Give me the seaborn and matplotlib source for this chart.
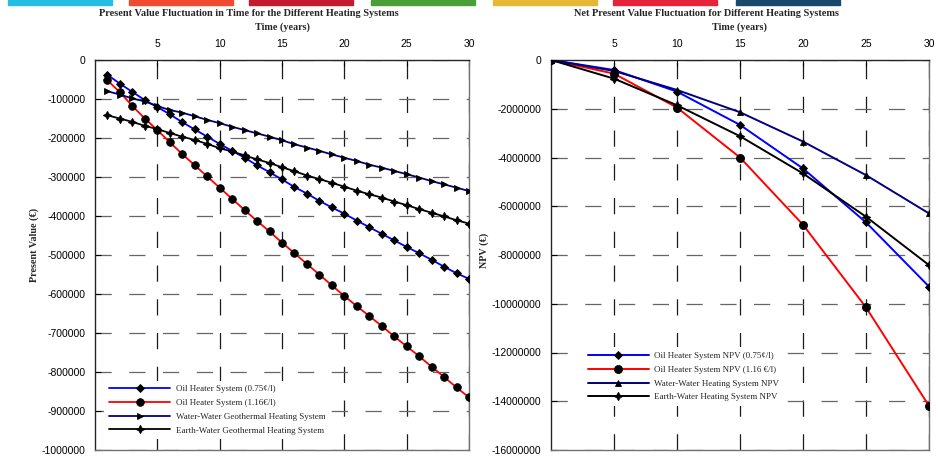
import matplotlib
matplotlib.use("Agg")
import matplotlib.pyplot as plt
import matplotlib.ticker as mticker
from matplotlib.patches import Rectangle
import seaborn as sns
import pandas as pd

# ---------------- data ----------------
years = list(range(1, 31))
pv_oil_075 = [-38000, -60800, -81900, -103000, -120700, -139200, -159500, -178100, -196600, -215200,
              -232900, -250600, -270000, -287800, -306300, -325700, -342600, -361200, -378100, -394100,
              -411800, -428700, -445600, -462500, -479300, -495400, -512200, -530000, -546800, -561200]
pv_oil_116 = [-52300, -82700, -118100, -150200, -179700, -211000, -241400, -270000, -298700, -327400,
              -356100, -384800, -412700, -439700, -468400, -495400, -523200, -550200, -578100, -605100,
              -631200, -656500, -681900, -708900, -734200, -759500, -786500, -812700, -839700, -865000]
pv_water = [-80200, -88600, -98700, -106300, -118100, -128300, -135000, -144300, -153600, -162000,
            -171300, -179700, -188200, -196600, -205900, -216000, -224500, -232900, -242200, -250600,
            -259100, -268400, -276000, -284400, -292800, -301300, -310600, -319000, -327400, -335900]
pv_earth = [-141800, -150200, -158700, -168800, -177200, -187300, -196600, -205100, -215200, -226200,
            -234600, -244700, -254900, -264100, -275100, -285200, -296200, -305500, -314800, -324900,
            -335000, -344300, -352700, -362900, -372200, -382300, -391600, -400900, -411000, -419400]

npv_years = [0, 5, 10, 15, 20, 25, 30]
npv_oil_075 = [0, -410000, -1297000, -2662000, -4451000, -6662000, -9295000]
npv_oil_116 = [0, -560000, -1952000, -4000000, -6758000, -10149000, -14190000]
npv_water = [0, -450000, -1229000, -2143000, -3345000, -4724000, -6294000]
npv_earth = [0, -765000, -1857000, -3126000, -4655000, -6430000, -8414000]

pv_labels = ["Oil Heater System (0.75¢/l)", "Oil Heater System (1.16€/l)",
             "Water-Water Geothermal Heating System", "Earth-Water Geothermal Heating System"]
npv_labels = ["Oil Heater System NPV (0.75¢/l)", "Oil Heater System NPV (1.16 €/l)",
              "Water-Water Heating System NPV", "Earth-Water Heating System NPV"]
x_ticks = [5, 10, 15, 20, 25, 30]

# ---------------- style ----------------
sns.set_theme(style="white")
plt.rcParams["font.family"] = ["Liberation Sans", "DejaVu Sans"]
serif = ["Liberation Serif", "DejaVu Serif"]

line_colors = ["#0000FF", "#FF0000", "#000080", "#000000"]
pv_markers = ["D", "o", ">", (4, 1, 0)]
pv_msizes = [4.2, 5.5, 5.0, 6.0]
npv_markers = ["D", "o", "^", (4, 1, 0)]
npv_msizes = [4.2, 5.8, 4.2, 6.0]

fig = plt.figure(figsize=(9.38, 4.59), dpi=100)
ax1 = fig.add_axes([95 / 938, 9 / 459, 374 / 938, 390 / 459])
ax2 = fig.add_axes([551 / 938, 9 / 459, 378 / 938, 390 / 459])

# decorative coloured bars at the very top of the screenshot
bar_cols = ["#26BDE2", "#F04B30", "#C5192D", "#4C9F38", "#E5B735", "#E5243B", "#19486A"]
bar_x = [8, 129, 249, 371, 493, 613, 736]
for c, bx in zip(bar_cols, bar_x):
    fig.patches.append(Rectangle((bx / 938, 1 - 4.5 / 459), 104 / 938, 4.5 / 459,
                                 transform=fig.transFigure, color=c, zorder=0))

pv_series = [pv_oil_075, pv_oil_116, pv_water, pv_earth]
for vals, lab, col, mk, ms in zip(pv_series, pv_labels, line_colors, pv_markers, pv_msizes):
    sns.lineplot(x=years, y=vals, ax=ax1, color=col, lw=1.3, marker=mk, markersize=ms,
                 markerfacecolor="black", markeredgecolor="black", markeredgewidth=0.6,
                 label=lab, estimator=None, zorder=3)

npv_series = [npv_oil_075, npv_oil_116, npv_water, npv_earth]
for vals, lab, col, mk, ms in zip(npv_series, npv_labels, line_colors, npv_markers, npv_msizes):
    sns.lineplot(x=npv_years, y=vals, ax=ax2, color=col, lw=1.4, marker=mk, markersize=ms,
                 markerfacecolor="black", markeredgecolor="black", markeredgewidth=0.6,
                 label=lab, estimator=None, zorder=3)

fmt = mticker.FuncFormatter(lambda v, p: f"{int(round(v))}")
grid_ls = (0, (13, 14))

for ax, ymin, ystep in [(ax1, -1000000, 100000), (ax2, -16000000, 2000000)]:
    ax.set_xlim(0, 30)
    ax.set_ylim(ymin, 0)
    ax.set_xticks(x_ticks)
    ax.set_yticks(list(range(ymin, 1, ystep)))
    ax.yaxis.set_major_formatter(fmt)
    ax.xaxis.tick_top()
    ax.xaxis.set_label_position("top")
    ax.tick_params(axis="x", direction="in", length=4, width=0.8, pad=8, labelsize=7.5,
                   colors="black", top=True, bottom=False)
    ax.tick_params(axis="y", direction="in", length=4, width=0.8, pad=7, labelsize=7.5,
                   colors="black", left=True)
    ax.grid(True, which="major", axis="x", color="0.1", lw=0.9, linestyle=grid_ls)
    ax.grid(True, which="major", axis="y", color="0.4", lw=0.9, linestyle=grid_ls)
    ax.set_axisbelow(True)
    for s in ["top", "left"]:
        ax.spines[s].set_color("0.15")
        ax.spines[s].set_linewidth(1.0)
    for s in ["right", "bottom"]:
        ax.spines[s].set_color("0.45")
        ax.spines[s].set_linewidth(1.0)
    ax.set_xlabel("Time (years)", family=serif, fontweight="bold", fontsize=7.3, labelpad=6.5)

ax1.set_ylabel("Present Value (€)", family=serif, fontweight="bold", fontsize=7.3)
ax1.yaxis.set_label_coords(-0.15, 0.526)
ax2.set_ylabel("NPV (€)", family=serif, fontweight="bold", fontsize=7.3)
ax2.yaxis.set_label_coords(-0.164, 0.513)

fig.text(249 / 938, 1 - 13 / 459, "Present Value Fluctuation in Time for the Different Heating Systems",
         ha="center", va="center", family=serif, fontweight="bold", fontsize=7.4)
fig.text(706 / 938, 1 - 13 / 459, "Net Present Value Fluctuation for Different Heating Systems",
         ha="center", va="center", family=serif, fontweight="bold", fontsize=7.4)

leg_kw = dict(prop={"family": serif, "size": 6.5}, handlelength=6.8, handletextpad=0.6,
              labelspacing=0.6, borderaxespad=0, frameon=True, fancybox=False,
              facecolor="white", edgecolor="none", framealpha=1.0, borderpad=0.5)
l1 = ax1.legend(loc="lower left", bbox_to_anchor=(0.025, 0.028), **leg_kw)
l2 = ax2.legend(loc="lower left", bbox_to_anchor=(0.085, 0.113), **leg_kw)
for lg in (l1, l2):
    lg.set_zorder(5)

fig.savefig("out.png", dpi=100)
